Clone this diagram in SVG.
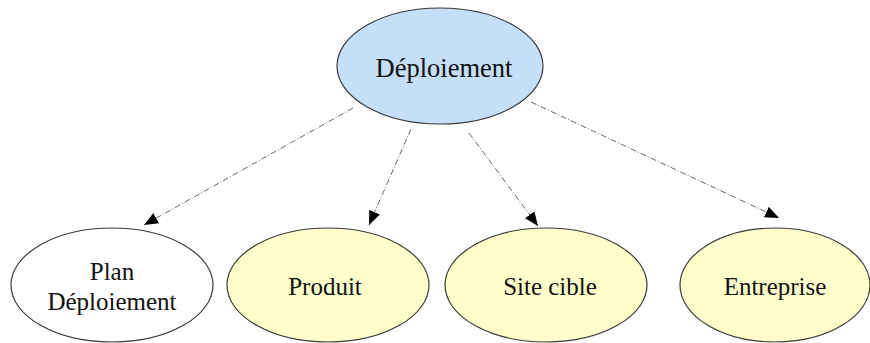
<svg xmlns="http://www.w3.org/2000/svg" width="870" height="343" viewBox="0 0 870 343">
<style>
.node ellipse{stroke:#3a3a3a;stroke-width:1.2}
.lbl{font-family:"Liberation Serif","Times New Roman",serif;font-size:25px;fill:#111;text-anchor:middle}
.top .lbl{font-size:26.5px}
.edge{stroke:#666;stroke-width:1;fill:none;stroke-dasharray:6 2 1 2;marker-end:url(#arr)}
</style>
<defs>
<marker id="arr" markerUnits="userSpaceOnUse" markerWidth="14" markerHeight="12" refX="12" refY="5" orient="auto" viewBox="0 0 12 10">
<path d="M0,0 L12,5 L0,10 z" fill="#000"/>
</marker>
</defs>
<rect width="870" height="343" fill="#fff"/>
<g id="connectors">
<line class="edge" x1="353" y1="108" x2="144" y2="225"/>
<line class="edge" x1="411" y1="129" x2="369" y2="225"/>
<line class="edge" x1="469" y1="133" x2="538" y2="226"/>
<line class="edge" x1="531" y1="102" x2="779" y2="218"/>
</g>
<g id="n-deploiement" class="node top">
<ellipse cx="440" cy="66" rx="103" ry="58" fill="#c6dff8"/>
<text class="lbl" x="444" y="77">Déploiement</text>
</g>
<g id="n-plan" class="node">
<ellipse cx="112" cy="285" rx="101" ry="57" fill="#ffffff"/>
<text class="lbl" x="112" y="280">Plan</text>
<text class="lbl" x="112" y="310">Déploiement</text>
</g>
<g id="n-produit" class="node">
<ellipse cx="328" cy="285" rx="101" ry="57" fill="#ffffcc"/>
<text class="lbl" x="325" y="295">Produit</text>
</g>
<g id="n-site" class="node">
<ellipse cx="546" cy="285" rx="101" ry="57" fill="#ffffcc"/>
<text class="lbl" x="550" y="295">Site cible</text>
</g>
<g id="n-entreprise" class="node">
<ellipse cx="775" cy="285" rx="95" ry="57" fill="#ffffcc"/>
<text class="lbl" x="775" y="295">Entreprise</text>
</g>
</svg>
